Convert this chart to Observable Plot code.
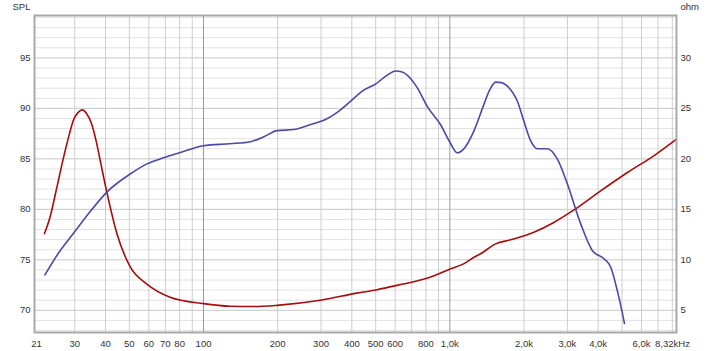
<!DOCTYPE html>
<html><head><meta charset="utf-8">
<script src="https://cdn.jsdelivr.net/npm/d3@7"></script>
<script src="https://cdn.jsdelivr.net/npm/@observablehq/plot@0.6"></script>
<style>body{margin:0;background:#fff;overflow:hidden}</style>
</head><body><div id="chart"></div>
<script>
// SPL curve (blue): frequency in Hz, level in dB
const splFreq = [22.7, 26, 29.6, 35, 40.5, 50.4, 58.9, 68.8, 80, 100, 128, 155, 176, 199, 232, 272, 313, 349, 395, 447, 499, 557, 601, 640, 671, 737, 809, 916, 1003, 1072, 1137, 1253, 1375, 1450, 1534, 1620, 1712, 1880, 2000, 2128, 2266, 2489, 2733, 3001, 3398, 3793, 4228, 4500, 4800, 5021, 5113];
const splValues = [73.5, 75.8, 77.6, 79.9, 81.7, 83.5, 84.5, 85.1, 85.6, 86.3, 86.5, 86.7, 87.2, 87.8, 87.9, 88.4, 88.9, 89.6, 90.7, 91.8, 92.4, 93.3, 93.7, 93.6, 93.3, 92.05, 90.2, 88.4, 86.6, 85.6, 85.96, 87.77, 90.4, 91.8, 92.6, 92.55, 92.2, 90.7, 88.7, 86.8, 86.0, 86.0, 84.97, 82.5, 78.56, 75.9, 75.1, 74.27, 71.8, 69.67, 68.7];
// Impedance curve (red): frequency in Hz, ohm
const ohmFreq = [22.6, 23.8, 25.4, 27.0, 28.5, 29.6, 31.0, 32.2, 33.5, 35.2, 36.7, 38.1, 40.5, 44.5, 50.4, 58.9, 73.2, 100, 128, 160, 199, 298, 419, 506, 610, 836, 1003, 1137, 1253, 1333, 1534, 1768, 2194, 2643, 3190, 4106, 5260, 6730, 8320];
const ohmValues = [12.6, 14.2, 17.2, 20.1, 22.4, 23.8, 24.6, 24.85, 24.5, 23.4, 21.7, 19.8, 16.7, 12.6, 9.3, 7.6, 6.3, 5.66, 5.4, 5.37, 5.49, 5.99, 6.7, 7.04, 7.47, 8.29, 9.1, 9.6, 10.26, 10.6, 11.58, 11.98, 12.73, 13.7, 14.94, 16.85, 18.65, 20.3, 21.95];

const xTickValues = [21, 30, 40, 50, 60, 70, 80, 100, 200, 300, 400, 500, 600, 800, 1000, 2000, 3000, 4000, 6000];
const xTickLabels = ["21", "30", "40", "50", "60", "70", "80", "100", "200", "300", "400", "500", "600", "800", "1,0k", "2,0k", "3,0k", "4,0k", "6,0k"];
const lastTick = [8320];
const lastTickLabel = ["8,32kHz"];
const xGridMinor = [30, 40, 50, 60, 70, 80, 90, 200, 300, 400, 500, 600, 700, 800, 900, 2000, 3000, 4000, 5000, 6000, 7000, 8000];
const xGridMajor = [100, 1000];
const splTicks = [70, 75, 80, 85, 90, 95];
const ohmTicks = [5, 10, 15, 20, 25, 30];
const ohmOffset = 65; // ohm axis: 5 ohm aligns with 70 dB
const yGridMinor = d3.range(68, 100).filter(v => v % 5 !== 0);
const yGridMajor = d3.range(70, 100, 5);

const spl = splFreq.map((f, i) => ({f, v: splValues[i]}));
const imp = ohmFreq.map((f, i) => ({f, v: ohmValues[i] + ohmOffset}));
const xLabels = xTickValues.map((v, i) => ({v, t: xTickLabels[i]}));

const font = "Liberation Sans, Arial, sans-serif";
const chart = Plot.plot({
  width: 720, height: 351,
  marginLeft: 34, marginRight: 44, marginTop: 15, marginBottom: 19,
  style: {fontFamily: font, fontSize: "9.5px", color: "#333", background: "#fff"},
  x: {type: "log", domain: [20.6, 8320], axis: null},
  y: {domain: [67.8, 99.2], axis: null},
  marks: [
    Plot.ruleY(yGridMinor, {stroke: "#e2e2e2", strokeWidth: 1}),
    Plot.ruleY(yGridMajor, {stroke: "#c6c6c6", strokeWidth: 1}),
    Plot.ruleX(xGridMinor, {stroke: "#cdcdcd", strokeWidth: 1}),
    Plot.ruleX(xGridMajor, {stroke: "#9a9a9a", strokeWidth: 1}),
    Plot.line(imp, {x: "f", y: "v", stroke: "#a50d0d", strokeWidth: 1.6, curve: "monotone-x"}),
    Plot.line(spl, {x: "f", y: "v", stroke: "#4a4aa6", strokeWidth: 1.6, curve: "monotone-x"}),
    Plot.frame({stroke: "#a9a9a9", strokeWidth: 2}),
    Plot.text(xLabels, {x: "v", text: "t", frameAnchor: "bottom", dy: 11, fill: "#333", lineAnchor: "middle"}),
    Plot.text(lastTick, {x: d => d, frameAnchor: "bottom", dy: 11, dx: -4, text: () => lastTickLabel[0], fill: "#333", lineAnchor: "middle"}),
    Plot.text(splTicks, {y: d => d, frameAnchor: "left", dx: -4, textAnchor: "end", text: d => String(d), fill: "#333"}),
    Plot.text(ohmTicks, {y: d => d + ohmOffset, frameAnchor: "right", dx: 4, textAnchor: "start", text: d => String(d), fill: "#333"}),
    Plot.text(["SPL"], {frameAnchor: "top-left", dx: -4, dy: -9, textAnchor: "end", lineAnchor: "middle", fill: "#333"}),
    Plot.text(["ohm"], {frameAnchor: "top-right", dx: 4, dy: -9, textAnchor: "start", lineAnchor: "middle", fill: "#333"})
  ]
});
document.getElementById("chart").appendChild(chart);
</script>
</body></html>
